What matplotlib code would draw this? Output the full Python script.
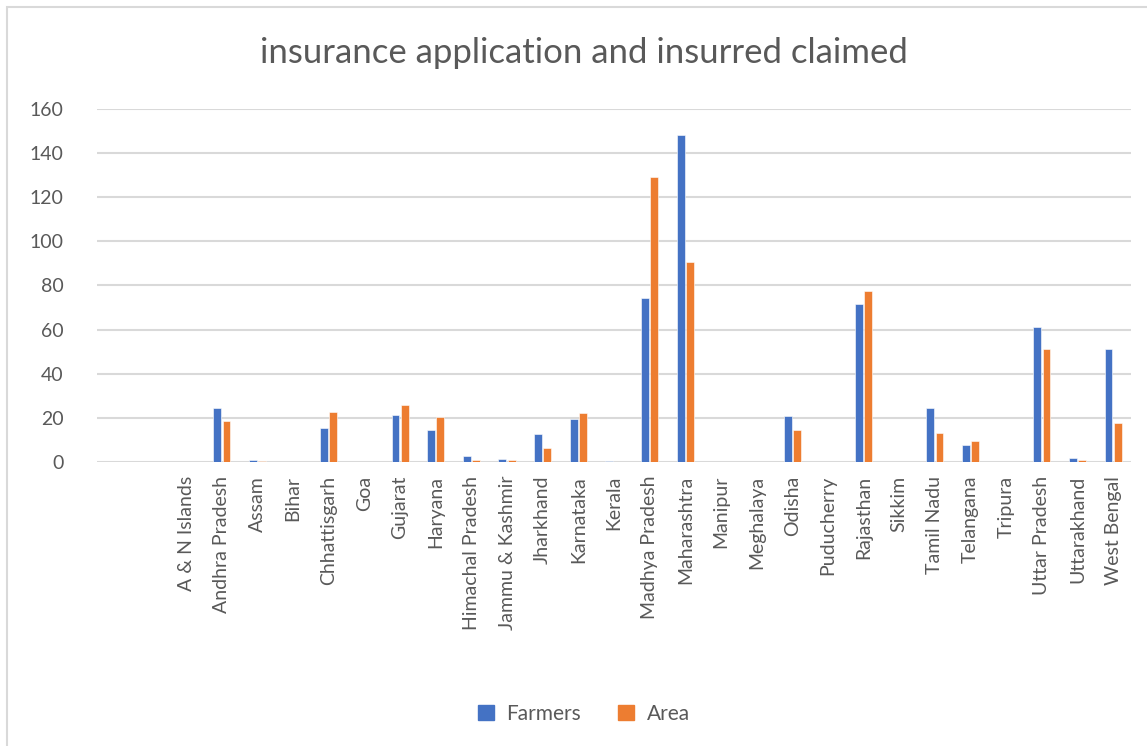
import matplotlib
matplotlib.use("Agg")
import matplotlib.pyplot as plt
import matplotlib.patches as mpatches
import numpy as np

# ── dados ──────────────────────────────────────────────
estados = ["", "", "A & N Islands", "Andhra Pradesh", "Assam", "Bihar", "Chhattisgarh",
           "Goa", "Gujarat", "Haryana", "Himachal Pradesh", "Jammu & Kashmir",
           "Jharkhand", "Karnataka", "Kerala", "Madhya Pradesh", "Maharashtra",
           "Manipur", "Meghalaya", "Odisha", "Puducherry", "Rajasthan", "Sikkim",
           "Tamil Nadu", "Telangana", "Tripura", "Uttar Pradesh", "Uttarakhand",
           "West Bengal"]
farmers = [0, 0, 0, 24.5, 0.8, 0, 15.5,
           0, 21.5, 14.3, 2.5, 1.4,
           12.8, 19.6, 0.3, 74.2, 148.2,
           0, 0, 20.8, 0, 71.8, 0,
           24.5, 7.8, 0, 61.2, 1.8,
           51.3]
area = [0, 0, 0, 18.6, 0.4, 0, 22.6,
        0, 26.0, 20.5, 0.8, 0.9,
        6.2, 22.2, 0.2, 129.3, 90.5,
        0, 0, 14.6, 0, 77.5, 0,
        13.2, 9.6, 0, 51.3, 0.8,
        17.5]
yticks = [0, 20, 40, 60, 80, 100, 120, 140, 160]

# ── estilo ─────────────────────────────────────────────
plt.rcParams["font.family"] = ["Lato", "DejaVu Sans"]
AZUL = "#4472C4"
LARANJA = "#ED7D31"
CINZA_TXT = "#595959"
CINZA_GRADE = "#D9D9D9"

fig = plt.figure(figsize=(11.47, 7.46), dpi=100)
fig.patch.set_facecolor("white")
ax = fig.add_axes([0.0846, 0.3807, 0.9014, 0.4733])

x = np.arange(len(estados))
w = 0.22
ax.bar(x - w / 2 - 0.02, farmers, width=w, color=AZUL, edgecolor="white", linewidth=0.4)
ax.bar(x + w / 2 + 0.02, area, width=w, color=LARANJA, edgecolor="white", linewidth=0.4)

ax.set_xlim(-0.5, len(estados) - 0.5)
ax.set_ylim(0, 160)
ax.set_yticks(yticks)
ax.yaxis.grid(True, color=CINZA_GRADE, linewidth=1.5)
ax.set_axisbelow(True)
for s in ax.spines.values():
    s.set_visible(False)
ax.tick_params(axis="both", length=0, colors=CINZA_TXT, labelsize=14)
ax.tick_params(axis="y", pad=24)
ax.set_xticks(x)
ax.set_xticklabels(estados, rotation=90, ha="center", va="top")
ax.tick_params(axis="x", pad=10)

fig.text(0.509, 0.929, "insurance application and insurred claimed",
         ha="center", va="center", fontsize=25, color=CINZA_TXT)

handles = [mpatches.Patch(color=AZUL, label="Farmers"),
           mpatches.Patch(color=LARANJA, label="Area")]
fig.legend(handles=handles, loc="center", bbox_to_anchor=(0.509, 0.043), ncol=2,
           frameon=False, fontsize=15, labelcolor=CINZA_TXT,
           handlelength=0.75, handleheight=0.75, columnspacing=1.8, handletextpad=0.6)

# moldura do gráfico
fig.patches.append(mpatches.Rectangle((0.006, -0.01), 1.2, 1.0, transform=fig.transFigure,
                                      fill=False, edgecolor=CINZA_GRADE, linewidth=1.5))

fig.savefig("out.png", dpi=100, facecolor="white")
